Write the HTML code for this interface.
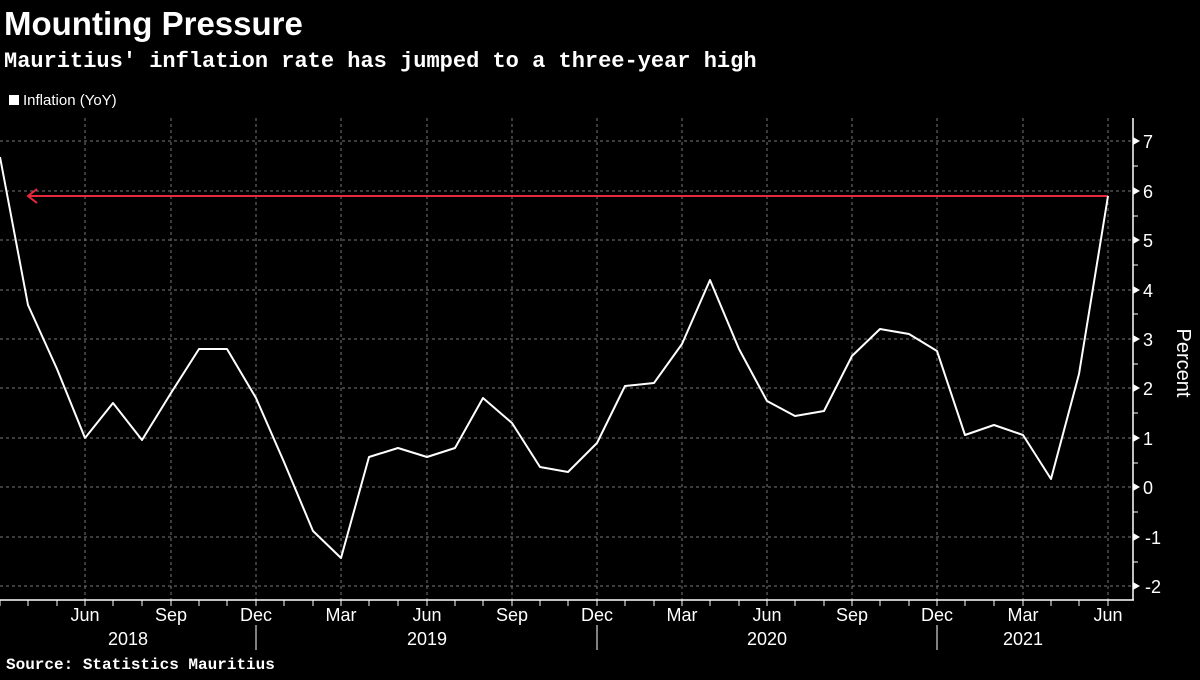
<!DOCTYPE html>
<html><head><meta charset="utf-8"><style>
body{margin:0;background:#000;width:1200px;height:675px;overflow:hidden;font-family:"Liberation Sans",sans-serif;}
</style></head><body>
<svg width="1200" height="675" xmlns="http://www.w3.org/2000/svg" font-family="Liberation Sans, sans-serif">
<rect width="1200" height="675" fill="#000"/>
<text x="4" y="35" fill="#fff" font-size="33" font-weight="bold">Mounting Pressure</text>
<text x="4" y="67" fill="#fff" font-size="22" font-weight="bold" font-family="Liberation Mono, monospace">Mauritius' inflation rate has jumped to a three-year high</text>
<rect x="9" y="95" width="10" height="10" fill="#fff"/>
<text x="23" y="105" fill="#fff" font-size="15">Inflation (YoY)</text>
<g stroke="#777" stroke-width="1" stroke-dasharray="3,3">
<line x1="0" x2="1133" y1="141" y2="141"/><line x1="0" x2="1133" y1="191" y2="191"/><line x1="0" x2="1133" y1="240" y2="240"/><line x1="0" x2="1133" y1="290" y2="290"/><line x1="0" x2="1133" y1="339" y2="339"/><line x1="0" x2="1133" y1="388" y2="388"/><line x1="0" x2="1133" y1="438" y2="438"/><line x1="0" x2="1133" y1="487" y2="487"/><line x1="0" x2="1133" y1="537" y2="537"/><line x1="0" x2="1133" y1="586" y2="586"/>
<line x1="85" x2="85" y1="118" y2="600"/><line x1="171" x2="171" y1="118" y2="600"/><line x1="256" x2="256" y1="118" y2="600"/><line x1="341" x2="341" y1="118" y2="600"/><line x1="427" x2="427" y1="118" y2="600"/><line x1="512" x2="512" y1="118" y2="600"/><line x1="597" x2="597" y1="118" y2="600"/><line x1="682" x2="682" y1="118" y2="600"/><line x1="767" x2="767" y1="118" y2="600"/><line x1="852" x2="852" y1="118" y2="600"/><line x1="937" x2="937" y1="118" y2="600"/><line x1="1023" x2="1023" y1="118" y2="600"/><line x1="1108" x2="1108" y1="118" y2="600"/>
</g>
<g stroke="#fff" stroke-width="1.5">
<line x1="0" x2="1134" y1="600" y2="600"/>
<line x1="1133" x2="1133" y1="118" y2="600"/>
</g>
<g stroke="#fff" stroke-width="1">
<path d="M0 600v6M28 600v6M57 600v6M85 600v6M113 600v6M142 600v6M171 600v6M199 600v6M227 600v6M256 600v6M284 600v6M313 600v6M341 600v6M369 600v6M398 600v6M427 600v6M455 600v6M483 600v6M512 600v6M540 600v6M568 600v6M597 600v6M625 600v6M654 600v6M682 600v6M710 600v6M739 600v6M767 600v6M795 600v6M824 600v6M852 600v6M880 600v6M909 600v6M937 600v6M965 600v6M994 600v6M1023 600v6M1051 600v6M1079 600v6M1108 600v6"/>
<path d="M256 625v25M597 625v25M937 625v25"/>
<path d="M1133 166h5M1133 216h5M1133 265h5M1133 314h5M1133 364h5M1133 413h5M1133 463h5M1133 512h5M1133 562h5"/>
</g>
<g fill="#fff">
<path d="M1133 137l7 4-7 4z"/><path d="M1133 187l7 4-7 4z"/><path d="M1133 236l7 4-7 4z"/><path d="M1133 286l7 4-7 4z"/><path d="M1133 335l7 4-7 4z"/><path d="M1133 384l7 4-7 4z"/><path d="M1133 434l7 4-7 4z"/><path d="M1133 483l7 4-7 4z"/><path d="M1133 533l7 4-7 4z"/><path d="M1133 582l7 4-7 4z"/>
</g>
<g fill="#fff" font-size="18">
<text x="1143" y="148">7</text><text x="1143" y="198">6</text><text x="1143" y="247">5</text><text x="1143" y="297">4</text><text x="1143" y="346">3</text><text x="1143" y="395">2</text><text x="1143" y="445">1</text><text x="1143" y="494">0</text><text x="1145" y="544">-1</text><text x="1145" y="593">-2</text>
</g>
<text transform="translate(1177,363) rotate(90)" fill="#fff" font-size="20" text-anchor="middle">Percent</text>
<g fill="#fff" font-size="18" text-anchor="middle">
<text x="85" y="621">Jun</text><text x="171" y="621">Sep</text><text x="256" y="621">Dec</text><text x="341" y="621">Mar</text><text x="427" y="621">Jun</text><text x="512" y="621">Sep</text><text x="597" y="621">Dec</text><text x="682" y="621">Mar</text><text x="767" y="621">Jun</text><text x="852" y="621">Sep</text><text x="937" y="621">Dec</text><text x="1023" y="621">Mar</text><text x="1108" y="621">Jun</text>
<text x="128" y="645">2018</text><text x="427" y="645">2019</text><text x="767" y="645">2020</text><text x="1023" y="645">2021</text>
</g>
<text x="6" y="669" fill="#fff" font-size="16" font-weight="bold" font-family="Liberation Mono, monospace">Source: Statistics Mauritius</text>
<line x1="29" y1="196" x2="1108" y2="196" stroke="#e8283c" stroke-width="2"/>
<path d="M37 189L28 196L37 203" fill="none" stroke="#e8283c" stroke-width="2"/>
<polyline fill="none" stroke="#fff" stroke-width="2" stroke-linejoin="round" points="0,157 28,305 57,369 85,438 113,403 142,440 171,393 199,349 227,349 256,398 284,462 313,531 341,558 369,457 398,448 427,457 455,448 483,398 512,423 540,467 568,472 597,443 625,386 654,383 682,344 710,280 739,349 767,401 795,416 824,411 852,356 880,329 909,334 937,351 965,435 994,425 1023,435 1051,479 1079,374 1108,196"/>
</svg>
</body></html>
